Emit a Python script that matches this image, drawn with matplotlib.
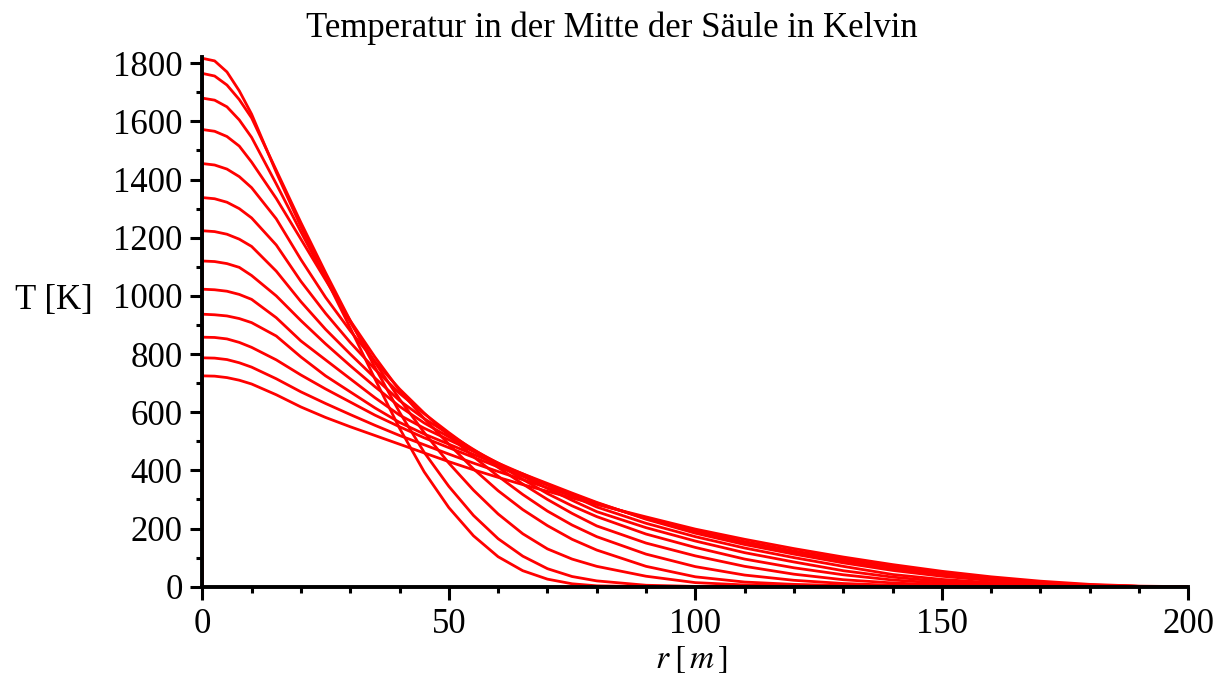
import matplotlib
matplotlib.use("Agg")
import matplotlib.pyplot as plt
from matplotlib.ticker import MultipleLocator

plt.rcParams['font.family'] = ['Liberation Serif', 'DejaVu Serif']
plt.rcParams['mathtext.fontset'] = 'stix'

# radius grid [m]
r = [0, 2.5, 5, 7.5, 10, 15, 20, 25, 30, 35, 40, 45, 50, 55, 60, 65, 70, 75, 80,
     90, 100, 110, 120, 130, 140, 150, 160, 170, 180, 190, 200]

# temperature profiles [K], one per time step (hottest first)
T1 = [1817, 1808, 1770, 1705, 1625, 1425, 1238, 1062, 890, 715, 545, 395, 272, 175, 103, 55, 26, 10, 3,
      0, 0, 0, 0, 0, 0, 0, 0, 0, 0, 0, 0]
T2 = [1765, 1756, 1725, 1675, 1612, 1432, 1252, 1080, 915, 755, 600, 462, 345, 245, 165, 105, 62, 35, 20,
      5, 1, 0, 0, 0, 0, 0, 0, 0, 0, 0, 0]
T3 = [1680, 1673, 1650, 1605, 1545, 1385, 1220, 1060, 910, 772, 645, 530, 425, 332, 250, 182, 130, 95, 70,
      36, 14, 6, 3, 1, 0, 0, 0, 0, 0, 0, 0]
T4 = [1572, 1566, 1548, 1515, 1460, 1335, 1195, 1055, 915, 790, 675, 578, 490, 405, 330, 265, 210, 163, 126,
      70, 34, 16, 8, 4, 1, 0, 0, 0, 0, 0, 0]
T5 = [1455, 1450, 1436, 1410, 1372, 1265, 1125, 995, 880, 775, 680, 597, 520, 447, 380, 317, 260, 212, 172,
      112, 69, 40, 22, 11, 5, 2, 1, 0, 0, 0, 0]
T6 = [1338, 1334, 1322, 1300, 1268, 1175, 1050, 940, 840, 748, 665, 595, 530, 468, 410, 353, 300, 252, 209,
      150, 106, 70, 43, 24, 13, 6, 3, 1, 0, 0, 0]
T7 = [1224, 1221, 1212, 1195, 1170, 1085, 980, 885, 800, 718, 640, 578, 525, 472, 420, 369, 320, 278, 241,
      181, 135, 95, 65, 41, 23, 12, 6, 2, 0, 0, 0]
T8 = [1120, 1118, 1111, 1098, 1070, 1000, 915, 835, 760, 688, 620, 563, 515, 470, 425, 380, 338, 297, 258,
      203, 157, 117, 85, 55, 33, 18, 10, 4, 1, 0, 0]
T9 = [1023, 1021, 1016, 1005, 988, 925, 845, 780, 715, 650, 590, 545, 505, 465, 425, 388, 350, 312, 274,
      218, 172, 133, 100, 70, 42, 25, 14, 7, 3, 1, 0]
T10 = [937, 935, 931, 922, 908, 862, 790, 725, 670, 615, 565, 525, 490, 455, 420, 388, 355, 322, 290,
       232, 184, 145, 112, 82, 56, 36, 21, 11, 5, 1, 0]
T11 = [858, 857, 852, 840, 823, 780, 728, 680, 635, 590, 550, 512, 478, 445, 412, 380, 350, 318, 288,
       234, 188, 150, 117, 88, 62, 41, 24, 12, 5, 1, 0]
T12 = [787, 786, 781, 770, 755, 715, 670, 630, 592, 555, 520, 488, 456, 425, 396, 368, 340, 312, 285,
       236, 192, 155, 123, 95, 69, 47, 29, 15, 6, 1, 0]
T13 = [725, 724, 719, 710, 697, 660, 618, 582, 550, 520, 490, 460, 430, 402, 376, 351, 328, 305, 283,
       240, 198, 163, 131, 102, 76, 53, 34, 19, 8, 2, 0]

profiles = [T1, T2, T3, T4, T5, T6, T7, T8, T9, T10, T11, T12, T13]

fig = plt.figure(figsize=(12.22, 6.85), dpi=100)
ax = fig.add_axes([202.3 / 1222, 1 - 586.7 / 685, (1188.4 - 202.3) / 1222, (586.7 - 57.4) / 685])

for T in profiles:
    ax.plot(r, T, color='#ff0000', linewidth=2.0, zorder=2, solid_joinstyle='round')
# the curves all start from the r = 0 axis
ax.vlines(r[0], 0, max(max(T) for T in profiles), color='#ff0000', linewidth=2.0, zorder=2)

ax.set_xlim(0, 200)
ax.set_ylim(0, 1820)

for side in ['top', 'right']:
    ax.spines[side].set_visible(False)
for side in ['left', 'bottom']:
    ax.spines[side].set_linewidth(2.8)
    ax.spines[side].set_zorder(3)

ax.xaxis.set_major_locator(MultipleLocator(50))
ax.xaxis.set_minor_locator(MultipleLocator(10))
ax.yaxis.set_major_locator(MultipleLocator(200))
ax.yaxis.set_minor_locator(MultipleLocator(100))
ax.tick_params(which='major', direction='out', length=9, width=2.2, labelsize=25, pad=5)
ax.tick_params(axis='x', which='major', pad=6)
ax.tick_params(which='minor', direction='out', length=4.5, width=2.2)

fig.text(0.501, 1 - 28 / 685, 'Temperatur in der Mitte der Säule in Kelvin',
         ha='center', va='center', fontsize=25)
fig.text(54 / 1222, 1 - 300 / 685, 'T [K]', ha='center', va='center', fontsize=25)
fig.text(692 / 1222, 1 - 660 / 685, r'$r\;[\,m\,]$', ha='center', va='center', fontsize=24)

fig.savefig('out.png', dpi=100)
